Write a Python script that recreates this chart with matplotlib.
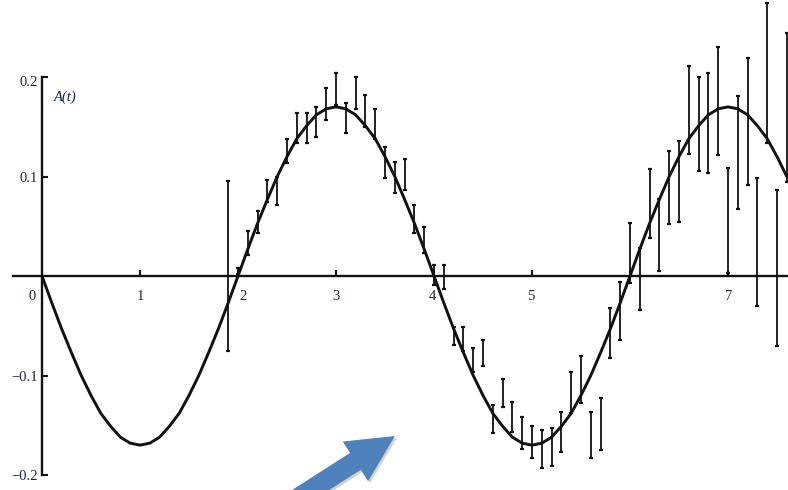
import matplotlib
matplotlib.use("Agg")
import matplotlib.pyplot as plt
from matplotlib.patches import FancyArrow
from matplotlib.transforms import Affine2D

# Theoretical curve A(t), sampled every 0.1 from t = 0 to 7.6
curve_t = [round(0.1 * i, 1) for i in range(77)]
curve_a = [
    0.000, -0.027, -0.053, -0.077, -0.100, -0.120, -0.138, -0.151, -0.162, -0.168,
    -0.170, -0.168, -0.162, -0.151, -0.138, -0.120, -0.100, -0.077, -0.053, -0.027,
    0.000, 0.027, 0.053, 0.077, 0.100, 0.120, 0.138, 0.151, 0.162, 0.168,
    0.170, 0.168, 0.162, 0.151, 0.138, 0.120, 0.100, 0.077, 0.053, 0.027,
    0.000, -0.027, -0.053, -0.077, -0.100, -0.120, -0.138, -0.151, -0.162, -0.168,
    -0.170, -0.168, -0.162, -0.151, -0.138, -0.120, -0.100, -0.077, -0.053, -0.027,
    0.000, 0.027, 0.053, 0.077, 0.100, 0.120, 0.138, 0.151, 0.162, 0.168,
    0.170, 0.168, 0.162, 0.151, 0.138, 0.120, 0.100,
]

# Simulated estimates with their error bars
sample_t = [round(1.9 + 0.1 * i, 1) for i in range(58)]
sample_a = [
    0.010, 0.005, 0.033, 0.054, 0.085, 0.085, 0.126, 0.149, 0.149, 0.155,
    0.173, 0.188, 0.159, 0.184, 0.166, 0.153, 0.114, 0.099, 0.102, 0.057,
    0.036, 0.001, -0.001, -0.060, -0.063, -0.084, -0.077, -0.144, -0.118, -0.142,
    -0.158, -0.167, -0.174, -0.172, -0.157, -0.117, -0.104, -0.160, -0.149, -0.057,
    -0.035, 0.023, -0.003, 0.073, 0.041, 0.089, 0.095, 0.167, 0.153, 0.154,
    0.176, 0.056, 0.124, 0.155, 0.034, 0.204, 0.008, 0.169,
]
sample_err = [
    0.085, 0.003, 0.012, 0.011, 0.011, 0.014, 0.012, 0.015, 0.015, 0.015,
    0.016, 0.016, 0.015, 0.016, 0.016, 0.015, 0.016, 0.016, 0.016, 0.014,
    0.013, 0.010, 0.012, 0.009, 0.012, 0.012, 0.013, 0.014, 0.014, 0.015,
    0.016, 0.016, 0.019, 0.019, 0.020, 0.021, 0.024, 0.023, 0.026, 0.025,
    0.029, 0.030, 0.031, 0.035, 0.036, 0.037, 0.041, 0.044, 0.047, 0.050,
    0.054, 0.053, 0.057, 0.064, 0.064, 0.070, 0.078, 0.075,
]

x_tick_vals = [1, 2, 3, 4, 5, 6, 7]
x_labels = ["0", "1", "2", "3", "4", "5", "7"]
x_label_pos = [-0.10, 1.0, 2.05, 3.0, 3.98, 4.99, 7.01]
y_tick_vals = [-0.2, -0.1, 0.1, 0.2]
y_labels = ["0.2", "0.1", "\u22120.1", "\u22120.2"]
y_label_pos = [0.194, 0.098, -0.102, -0.202]

ink = "#111111"
label_color = "#1c2540"
serif = ["Liberation Serif", "DejaVu Serif"]

fig = plt.figure(figsize=(7.88, 4.9), dpi=100)
ax = fig.add_axes([0, 0, 1, 1])
ax.set_xlim(-42 / 98.0, (788 - 42) / 98.0)
ax.set_ylim(-(490 - 276) / 995, 276 / 995)
ax.patch.set_alpha(0)

# Axes drawn through the origin
for side in ("top", "right"):
    ax.spines[side].set_visible(False)
ax.spines["left"].set_position(("data", 0))
ax.spines["bottom"].set_position(("data", 0))
ax.spines["left"].set_bounds(-0.2, 0.2)
ax.spines["bottom"].set_bounds(-0.30, 7.62)
for side in ("left", "bottom"):
    ax.spines[side].set_linewidth(1.7)
    ax.spines[side].set_color(ink)
ax.set_xticks(x_tick_vals)
ax.set_yticks(y_tick_vals)
ax.tick_params(direction="in", length=4.5, width=1.5, color=ink,
               labelbottom=False, labelleft=False)

for lab, xp in zip(x_labels, x_label_pos):
    ax.text(xp, -0.021, lab, ha="center", va="center", fontsize=10.5,
            family=serif, color=label_color)
for lab, yp in zip(y_labels, y_label_pos):
    ax.text(-0.045, yp, lab, ha="right", va="center", fontsize=10.5,
            family=serif, color=label_color)
ax.text(0.235, 0.180, "A(t)", ha="center", va="center", fontsize=10.5,
        family=serif, style="italic", color=label_color)

# Error bars and curve
ax.errorbar(sample_t, sample_a, yerr=sample_err, fmt="none", ecolor=ink,
            elinewidth=1.3, capsize=1.6, capthick=1.6, zorder=3)
ax.plot(curve_t, curve_a, color=ink, lw=2.1, solid_joinstyle="round",
        solid_capstyle="round", zorder=4)

# Blue pointer arrow (inch coordinates from the figure's lower-left corner)
arrow_kw = dict(width=0.20, head_width=0.47, head_length=0.47,
                length_includes_head=True, linewidth=0)
tail_x, tail_y, dx, dy = 2.95, -0.10, 1.00, 0.64
shadow = FancyArrow(tail_x, tail_y, dx, dy, color="#7f7f7f", alpha=0.35,
                    transform=fig.dpi_scale_trans + Affine2D().translate(2, -2),
                    **arrow_kw)
arrow = FancyArrow(tail_x, tail_y, dx, dy, color="#4f81bd",
                   transform=fig.dpi_scale_trans, **arrow_kw)
fig.add_artist(shadow)
fig.add_artist(arrow)

fig.savefig("out.png", dpi=100, facecolor="white")
